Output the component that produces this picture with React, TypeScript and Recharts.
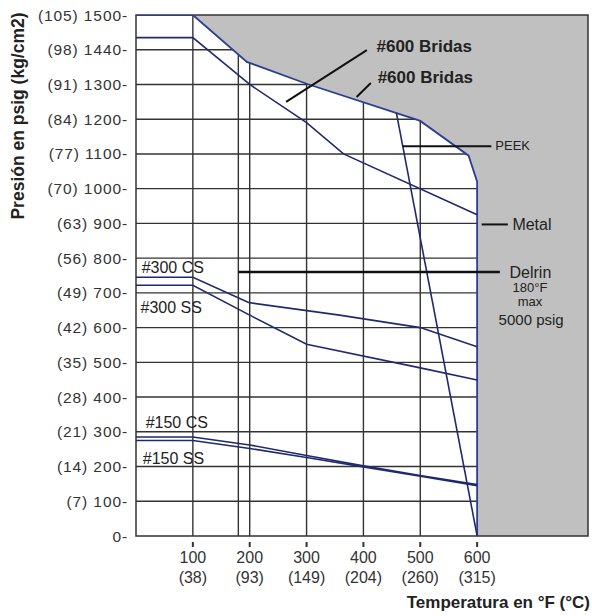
import React from 'react';
import {
  ComposedChart,
  Line,
  Area,
  XAxis,
  YAxis,
  CartesianGrid,
  ReferenceLine,
  ReferenceDot,
  ReferenceArea,
} from 'recharts';

// temperatura en °F / presión en psig
const envelopeF = [0, 100, 195, 300, 500, 585, 600, 600];
const envelopeP = [1500, 1500, 1365, 1302, 1195, 1095, 1020, 0];

const bridas600F = [0, 100, 200, 300, 365, 600];
const bridas600P = [1435, 1435, 1300, 1190, 1100, 925];

const peekF = [458, 600];
const peekP = [1218, 0];

const cs300F = [0, 100, 198, 358, 500, 600];
const cs300P = [745, 745, 672, 636, 600, 545];

const ss300F = [0, 100, 200, 300, 500, 600];
const ss300P = [722, 722, 636, 552, 484, 449];

const cs150F = [0, 100, 200, 300, 400, 500, 600];
const cs150P = [285, 285, 262, 232, 202, 174, 148];

const ss150F = [0, 100, 200, 300, 400, 500, 600];
const ss150P = [275, 275, 252, 226, 199, 172, 145];

const delrinF = 180;
const delrinP = 760;
const maxF = 795;
const maxP = 1500;

const psigTicks = [0, 100, 200, 300, 400, 500, 600, 700, 800, 900, 1000, 1100, 1200, 1300, 1400, 1500];
const psigLabels = ['0', '100', '200', '300', '400', '500', '600', '700', '800', '900', '1000', '1100', '1200', '1300', '1440', '1500'];
const kgLabels = ['', '(7)', '(14)', '(21)', '(28)', '(35)', '(42)', '(49)', '(56)', '(63)', '(70)', '(77)', '(84)', '(91)', '(98)', '(105)'];

const fTicks = [100, 200, 300, 400, 500, 600];
const cLabels = ['(38)', '(93)', '(149)', '(204)', '(260)', '(315)'];

const gridF = [100, delrinF, 200, 300, 400, 500];

const toPoints = (fs: number[], ps: number[]) => fs.map((f, i) => ({ f, p: ps[i] }));

const grayData = [
  ...envelopeF.map((f, i) => ({ f, band: [envelopeP[i], maxP] })),
  { f: maxF, band: [0, maxP] },
];

const FONT = 'Liberation Sans, Arial, sans-serif';
const LINE = '#1f2a6e';
const INK = '#222';

const YTick = (props: any) => {
  const { x, y, payload } = props;
  const i = psigTicks.indexOf(payload.value);
  const kg = kgLabels[i];
  const text = (kg ? kg + ' ' : '') + psigLabels[i] + '-';
  return (
    <text x={x} y={y} textAnchor="end" dominantBaseline="central" fontFamily={FONT} fontSize={15.5} letterSpacing={0.9} fill="#333">
      {text}
    </text>
  );
};

const XTick = (props: any) => {
  const { x, y, payload } = props;
  const i = fTicks.indexOf(payload.value);
  return (
    <g>
      <line x1={x} x2={x} y1={y - 2} y2={y + 3} stroke="#333" strokeWidth={2} />
      <text x={x} y={y + 19} textAnchor="middle" fontFamily={FONT} fontSize={16} fill="#333">
        {payload.value}
      </text>
      <text x={x} y={y + 39} textAnchor="middle" fontFamily={FONT} fontSize={16} fill="#333">
        {cLabels[i]}
      </text>
    </g>
  );
};

const YTitle = () => (
  <text x={18} y={116} transform="rotate(-90 18 116)" textAnchor="middle" dominantBaseline="central" fontFamily={FONT} fontSize={17.5} fontWeight="bold" fill={INK}>
    Presión en psig (kg/cm2)
  </text>
);

const XTitle = () => (
  <text x={590} y={608} textAnchor="end" fontFamily={FONT} fontSize={17} fontWeight="bold" fill={INK}>
    Temperatura en °F (°C)
  </text>
);

type Note = { text: string; f: number; p: number; size: number; bold?: boolean; anchor?: 'start' | 'middle' };
const notes: Note[] = [
  { text: '#600 Bridas', f: 423, p: 1408, size: 17, bold: true },
  { text: '#600 Bridas', f: 425, p: 1319, size: 17, bold: true },
  { text: 'PEEK', f: 632, p: 1123, size: 13 },
  { text: 'Metal', f: 662, p: 898, size: 16 },
  { text: 'Delrin', f: 657, p: 760, size: 16 },
  { text: '180°F', f: 693, p: 716, size: 13, anchor: 'middle' },
  { text: 'max', f: 693, p: 675, size: 13, anchor: 'middle' },
  { text: '5000 psig', f: 695, p: 622, size: 15, anchor: 'middle' },
  { text: '#300 CS', f: 10, p: 772, size: 16 },
  { text: '#300 SS', f: 8, p: 659, size: 16 },
  { text: '#150 CS', f: 17, p: 328, size: 16 },
  { text: '#150 SS', f: 12, p: 222, size: 16 },
];

const pointers = [
  [{ x: delrinF, y: delrinP }, { x: 640, y: delrinP }],
  [{ x: 469, y: 1122 }, { x: 625, y: 1122 }],
  [{ x: 608, y: 897 }, { x: 654, y: 897 }],
  [{ x: 264, y: 1250 }, { x: 406, y: 1399 }],
  [{ x: 388, y: 1264 }, { x: 413, y: 1304 }],
];

const series = [
  { name: '#600 Bridas SS', data: toPoints(bridas600F, bridas600P) },
  { name: 'PEEK', data: toPoints(peekF, peekP) },
  { name: '#300 CS', data: toPoints(cs300F, cs300P) },
  { name: '#300 SS', data: toPoints(ss300F, ss300P) },
  { name: '#150 CS', data: toPoints(cs150F, cs150P) },
  { name: '#150 SS', data: toPoints(ss150F, ss150P) },
];

export default function App() {
  return (
    <div style={{ position: 'absolute', left: 0, top: 0, width: 592, height: 616, background: '#fff' }}>
      <ComposedChart width={592} height={616} margin={{ top: 15, right: 4, bottom: 0, left: 0 }}>
        <CartesianGrid
          horizontalValues={psigTicks.slice(1, -1)}
          verticalValues={gridF}
          stroke="#333"
          strokeWidth={1.4}
          strokeDasharray=""
        />
        <XAxis
          dataKey="f"
          type="number"
          domain={[0, maxF]}
          ticks={fTicks}
          allowDataOverflow
          height={80}
          axisLine={false}
          tickLine={false}
          tick={<XTick />}
          interval={0}
          label={<XTitle />}
        />
        <YAxis
          type="number"
          domain={[0, maxP]}
          ticks={psigTicks}
          allowDataOverflow
          width={136}
          axisLine={false}
          tickLine={false}
          tick={<YTick />}
          interval={0}
          label={<YTitle />}
        />
        <Area
          data={grayData}
          dataKey="band"
          type="linear"
          stroke="none"
          fill="#c0c0c0"
          fillOpacity={1}
          dot={false}
          activeDot={false}
          isAnimationActive={false}
        />
        <Line
          data={toPoints(envelopeF, envelopeP)}
          dataKey="p"
          type="linear"
          stroke="#2b3d94"
          strokeWidth={1.8}
          dot={false}
          activeDot={false}
          isAnimationActive={false}
        />
        {series.map((s) => (
          <Line
            key={s.name}
            name={s.name}
            data={s.data}
            dataKey="p"
            type="linear"
            stroke={LINE}
            strokeWidth={1.6}
            dot={false}
            activeDot={false}
            isAnimationActive={false}
          />
        ))}
        <ReferenceArea x1={0} x2={maxF} y1={0} y2={maxP} fill="none" stroke="#333" strokeWidth={1.5} ifOverflow="visible" />
        {pointers.map((seg, i) => (
          <ReferenceLine key={i} segment={seg} stroke="#111" strokeWidth={i === 0 ? 2.5 : 2} ifOverflow="visible" />
        ))}
        {notes.map((n, i) => (
          <ReferenceDot
            key={i}
            x={n.f}
            y={n.p}
            r={0}
            ifOverflow="visible"
            shape={(p: any) => (
              <text
                x={p.cx}
                y={p.cy}
                textAnchor={n.anchor || 'start'}
                dominantBaseline="central"
                fontFamily={FONT}
                fontSize={n.size}
                fontWeight={n.bold ? 'bold' : 'normal'}
                fill={INK}
              >
                {n.text}
              </text>
            )}
          />
        ))}
      </ComposedChart>
    </div>
  );
}
